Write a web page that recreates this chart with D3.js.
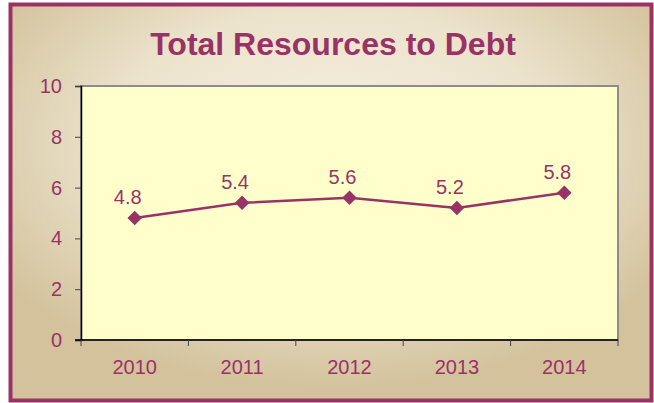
<!DOCTYPE html>
<html>
<head>
<meta charset="utf-8">
<script src="https://cdn.jsdelivr.net/npm/d3@7"></script>
<style>
    body { margin: 0; background: #fff; }
    text { font-family: "Liberation Sans", Arial, sans-serif; }
</style>
</head>
<body>
<div id="chart"></div>
<script>
    // chart data
    var years = ["2010", "2011", "2012", "2013", "2014"];
    var ratios = [4.8, 5.4, 5.6, 5.2, 5.8];
    var yTicks = [0, 2, 4, 6, 8, 10];
    var title = "Total Resources to Debt";

    var width = 654, height = 403;
    var color = "#993366";
    var margin = {top: 86, right: 36, bottom: 63, left: 81};
    var plotW = width - margin.left - margin.right;
    var plotH = height - margin.top - margin.bottom;

    var svg = d3.select("#chart").append("svg")
        .attr("width", width)
        .attr("height", height);

    // background gradient
    var defs = svg.append("defs");
    var grad = defs.append("radialGradient")
        .attr("id", "bg")
        .attr("cx", "50%").attr("cy", "35%")
        .attr("r", "62%");
    grad.append("stop").attr("offset", "0%").attr("stop-color", "#f6f0e2");
    grad.append("stop").attr("offset", "55%").attr("stop-color", "#ece3cc");
    grad.append("stop").attr("offset", "100%").attr("stop-color", "#d3c29c");

    svg.append("rect")
        .attr("x", 10.5).attr("y", 4.5)
        .attr("width", 641).attr("height", 396)
        .attr("fill", "url(#bg)")
        .attr("stroke", color)
        .attr("stroke-width", 4);

    svg.append("text")
        .attr("x", 333).attr("y", 55)
        .attr("text-anchor", "middle")
        .attr("font-size", 32)
        .attr("font-weight", "bold")
        .attr("fill", color)
        .text(title);

    var g = svg.append("g")
        .attr("transform", "translate(" + margin.left + "," + margin.top + ")");

    var x = d3.scaleBand().domain(years).range([0, plotW]);
    var y = d3.scaleLinear().domain([0, 10]).range([plotH, 0]);

    // plot area
    g.append("rect")
        .attr("width", plotW).attr("height", plotH)
        .attr("fill", "#ffffcc")
        .attr("stroke", "#8c8c8c")
        .attr("stroke-width", 2);

    // y axis
    var yAxis = g.append("g")
        .call(d3.axisLeft(y).tickValues(yTicks).tickSize(6).tickPadding(13));
    yAxis.select(".domain").attr("stroke", "#000").attr("stroke-width", 1.5);
    yAxis.selectAll(".tick line").attr("stroke", "#444");
    yAxis.selectAll("text")
        .attr("font-size", 20)
        .attr("fill", color)
        .style("font-family", "Liberation Sans, Arial, sans-serif");

    // x axis (ticks at band edges)
    var xAxisG = g.append("g").attr("transform", "translate(0," + plotH + ")");
    xAxisG.append("line")
        .attr("x1", -6).attr("x2", plotW)
        .attr("stroke", "#000").attr("stroke-width", 1.5);
    var edges = years.map(function (d) { return x(d); }).concat([plotW]);
    xAxisG.selectAll(".edge").data(edges).enter().append("line")
        .attr("x1", function (d) { return d; }).attr("x2", function (d) { return d; })
        .attr("y1", 0).attr("y2", 6)
        .attr("stroke", "#444");
    xAxisG.selectAll(".lbl").data(years).enter().append("text")
        .attr("x", function (d) { return x(d) + x.bandwidth() / 2; })
        .attr("y", 34)
        .attr("text-anchor", "middle")
        .attr("font-size", 20)
        .attr("fill", color)
        .text(function (d) { return d; });

    // line
    var line = d3.line()
        .x(function (d, i) { return x(years[i]) + x.bandwidth() / 2; })
        .y(function (d) { return y(d); });

    g.append("path")
        .datum(ratios)
        .attr("fill", "none")
        .attr("stroke", color)
        .attr("stroke-width", 2.5)
        .attr("d", line);

    g.selectAll(".pt").data(ratios).enter().append("path")
        .attr("d", d3.symbol().type(d3.symbolSquare).size(105))
        .attr("transform", function (d, i) {
            return "translate(" + (x(years[i]) + x.bandwidth() / 2) + "," + y(d) + ") rotate(45)";
        })
        .attr("fill", color);

    g.selectAll(".val").data(ratios).enter().append("text")
        .attr("x", function (d, i) { return x(years[i]) + x.bandwidth() / 2 - 7; })
        .attr("y", function (d) { return y(d) - 14; })
        .attr("text-anchor", "middle")
        .attr("font-size", 20)
        .attr("fill", color)
        .text(function (d) { return d.toFixed(1); });
</script>
</body>
</html>
